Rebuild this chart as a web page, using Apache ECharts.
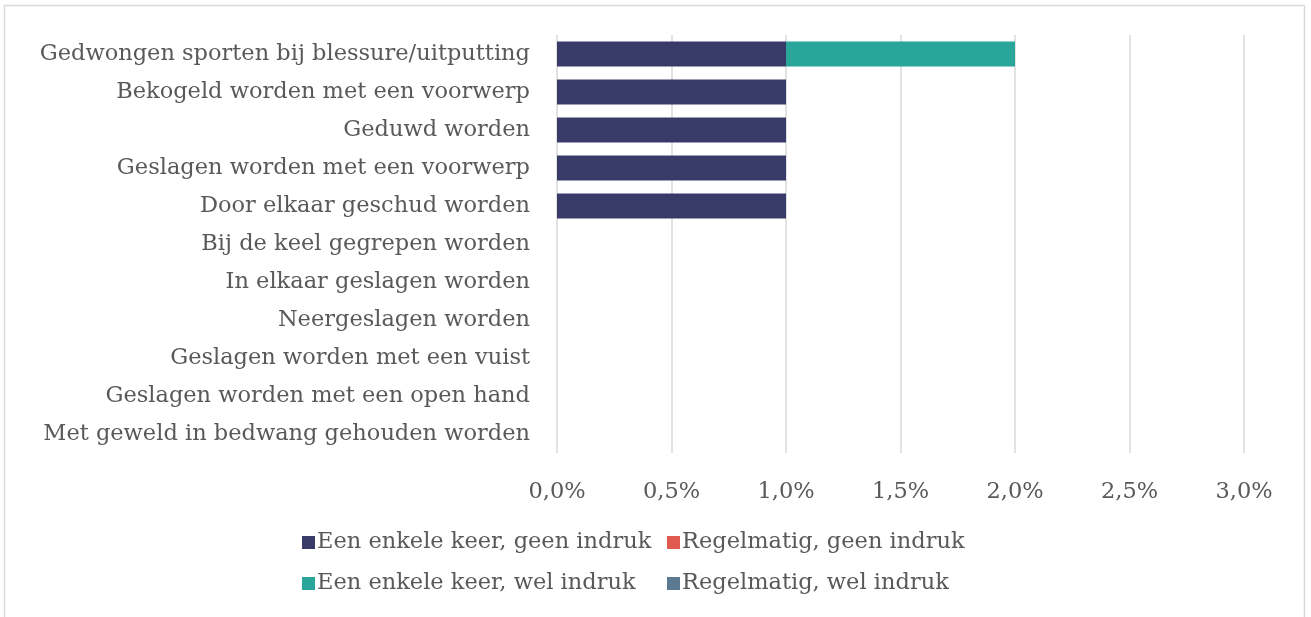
<!DOCTYPE html>
<html>
<head>
<meta charset="utf-8">
<script src="https://cdn.jsdelivr.net/npm/echarts@6/dist/echarts.min.js"></script>
<style>html,body{margin:0;padding:0;background:#fff}#c{width:1311px;height:617px}</style>
</head>
<body>
<div id="c"></div>
<script>
const categories = [
  'Gedwongen sporten bij blessure/uitputting',
  'Bekogeld worden met een voorwerp',
  'Geduwd worden',
  'Geslagen worden met een voorwerp',
  'Door elkaar geschud worden',
  'Bij de keel gegrepen worden',
  'In elkaar geslagen worden',
  'Neergeslagen worden',
  'Geslagen worden met een vuist',
  'Geslagen worden met een open hand',
  'Met geweld in bedwang gehouden worden'
];
const seriesNames = [
  'Een enkele keer, geen indruk',
  'Regelmatig, geen indruk',
  'Een enkele keer, wel indruk',
  'Regelmatig, wel indruk'
];
const enkelGeen = [1, 1, 1, 1, 1, 0, 0, 0, 0, 0, 0];
const regelGeen = [0, 0, 0, 0, 0, 0, 0, 0, 0, 0, 0];
const enkelWel  = [1, 0, 0, 0, 0, 0, 0, 0, 0, 0, 0];
const regelWel  = [0, 0, 0, 0, 0, 0, 0, 0, 0, 0, 0];
const colors = ['#383B68', '#E15A4F', '#29A59A', '#5B7A91'];
const values = [enkelGeen, regelGeen, enkelWel, regelWel];

const FONT = 'DejaVu Serif';
const TXT = '#595959';
const FS = 22.5;
const chart = echarts.init(document.getElementById('c'), null, {renderer: 'canvas'});
chart.setOption({
  animation: false,
  color: colors,
  textStyle: {fontFamily: FONT},
  grid: {left: 557, right: 67, top: 35, bottom: 164, containLabel: false},
  graphic: [{
    type: 'rect', shape: {x: 4.5, y: 5.5, width: 1300, height: 700},
    style: {fill: 'none', stroke: '#d9d9d9', lineWidth: 1.5}, silent: true
  }],
  xAxis: {
    type: 'value', min: 0, max: 3, interval: 0.5,
    axisLine: {show: false}, axisTick: {show: false},
    splitLine: {lineStyle: {color: '#d9d9d9', width: 1.5}},
    axisLabel: {
      color: TXT, fontFamily: FONT, fontSize: FS, margin: 28,
      formatter: v => v.toFixed(1).replace('.', ',') + '%'
    }
  },
  yAxis: {
    type: 'category', data: categories, inverse: true,
    axisLine: {show: false}, axisTick: {show: false},
    axisLabel: {color: TXT, fontFamily: FONT, fontSize: FS, margin: 27}
  },
  legend: [{
    data: [seriesNames[0], seriesNames[2]], orient: 'vertical',
    left: 297, top: 526, itemGap: 18, itemWidth: 13, itemHeight: 13,
    icon: 'rect', textStyle: {color: TXT, fontFamily: FONT, fontSize: FS, padding: [0,0,0,-3]}
  }, {
    data: [seriesNames[1], seriesNames[3]], orient: 'vertical',
    left: 662, top: 526, itemGap: 18, itemWidth: 13, itemHeight: 13,
    icon: 'rect', textStyle: {color: TXT, fontFamily: FONT, fontSize: FS, padding: [0,0,0,-3]}
  }],
  series: seriesNames.map((n, i) => ({
    name: n, type: 'bar', stack: 'total', data: values[i],
    barWidth: 25, itemStyle: {color: colors[i]}
  }))
});
</script>
</body>
</html>
